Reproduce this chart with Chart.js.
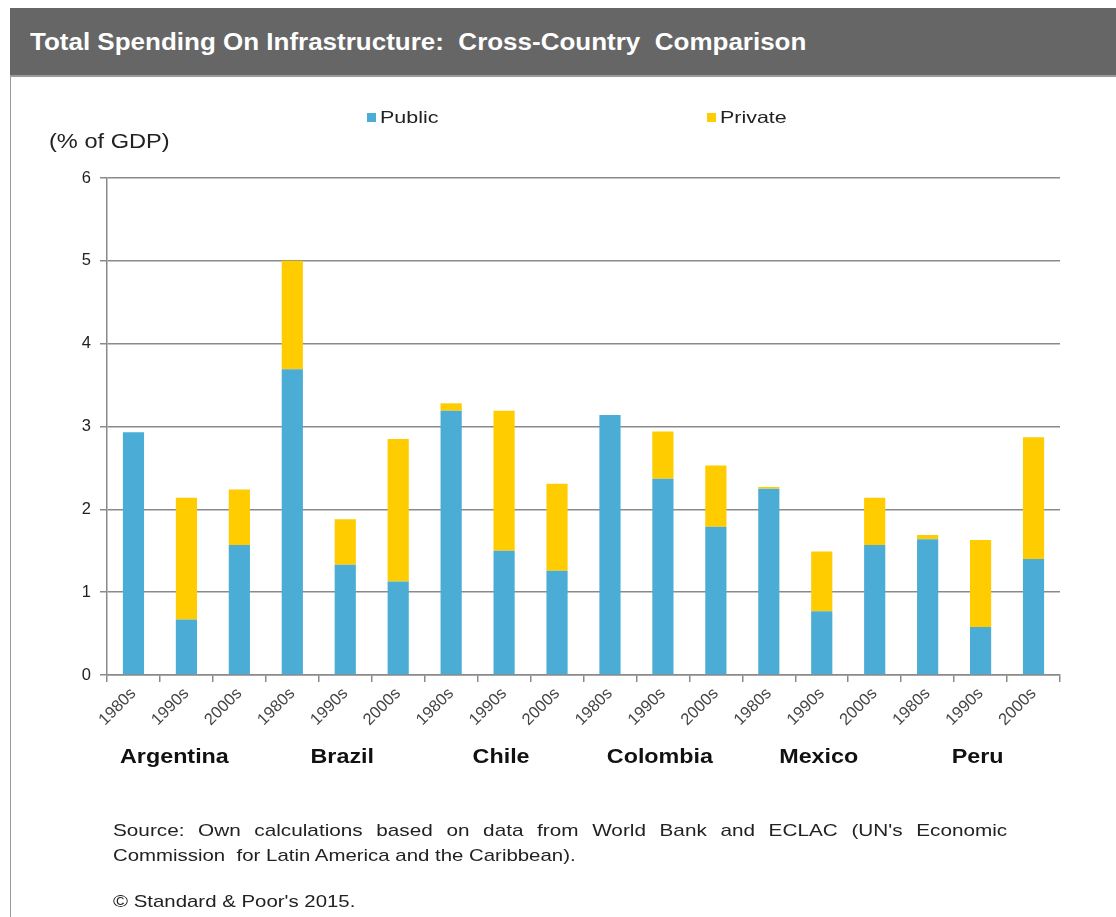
<!DOCTYPE html>
<html>
<head>
<meta charset="utf-8">
<script src="https://cdn.jsdelivr.net/npm/chart.js@4.4.1/dist/chart.umd.min.js"></script>
<style>
  html, body { margin: 0; padding: 0; background: #fff; }
  #wrap { position: relative; width: 1116px; height: 917px; overflow: hidden; font-family: "Liberation Sans", Arial, sans-serif; }
  #titlebar { position: absolute; left: 10px; top: 8px; width: 1106px; height: 67px; background: #666666; border-bottom: 2px solid #9a9a9a; }
  #titlebar span { position: absolute; left: 20px; top: 21px; color: #fff; font-size: 23px; font-weight: bold; white-space: pre; transform: scaleX(1.13); transform-origin: left top; }
  #leftline { position: absolute; left: 10px; top: 75px; width: 1px; height: 842px; background: #9a9a9a; }
  #chart { position: absolute; left: 0; top: 0; }
  .note { position: absolute; left: 113px; font-size: 17px; color: #222; white-space: nowrap; transform-origin: left top; }
  #src1 { top: 821px; width: 733px; text-align: justify; text-align-last: justify; white-space: normal; transform: scaleX(1.22); }
  #src2 { top: 846px; transform: scaleX(1.2); white-space: pre; }
  #copy { top: 892px; transform: scaleX(1.2); }
</style>
</head>
<body>
<div id="wrap">
  <div id="titlebar"><span>Total Spending On Infrastructure:  Cross-Country  Comparison</span></div>
  <div id="leftline"></div>
  <canvas id="chart" width="1116" height="917"></canvas>
  <div class="note" id="src1">Source: Own calculations based on data from World Bank and ECLAC (UN's Economic</div>
  <div class="note" id="src2">Commission  for Latin America and the Caribbean).</div>
  <div class="note" id="copy">© Standard &amp; Poor's 2015.</div>
</div>
<script>
const countries = ['Argentina', 'Brazil', 'Chile', 'Colombia', 'Mexico', 'Peru'];
const decades = ['1980s', '1990s', '2000s'];
const publicVals = [2.93, 0.67, 1.57, 3.69, 1.33, 1.13, 3.19, 1.50, 1.26, 3.14, 2.37, 1.79, 2.25, 0.77, 1.57, 1.64, 0.58, 1.40];
const privateVals = [0, 1.47, 0.67, 1.31, 0.55, 1.72, 0.09, 1.69, 1.05, 0, 0.57, 0.74, 0.02, 0.72, 0.57, 0.05, 1.05, 1.47];
const yTicks = [0, 1, 2, 3, 4, 5, 6];

const labels = countries.flatMap(() => decades);
const gridColor = '#8a8a8a';
const fontFamily = '"Liberation Sans", Arial, sans-serif';

// text in the source image is a bit wider than Arial, so stretch it a little
function wideText(ctx, text, x, y, sx, align) {
    ctx.save();
    ctx.translate(x, y);
    ctx.scale(sx, 1);
    ctx.textAlign = align;
    ctx.fillText(text, 0, 0);
    ctx.restore();
}

// legend, y title and country names drawn on the canvas
const extras = {
    id: 'extras',
    afterDraw(chart) {
        const ctx = chart.ctx;
        const x = chart.scales.x;
        ctx.save();
        ctx.fillStyle = '#222';
        ctx.textBaseline = 'middle';
        ctx.font = '20px ' + fontFamily;
        wideText(ctx, '(% of GDP)', 49, 142, 1.18, 'left');

        const legendX = [367, 707];
        chart.data.datasets.forEach((ds, i) => {
            ctx.fillStyle = ds.backgroundColor;
            ctx.fillRect(legendX[i], 113, 9, 9);
            ctx.fillStyle = '#222';
            ctx.font = '16.5px ' + fontFamily;
            wideText(ctx, ds.label, legendX[i] + 13, 118, 1.3, 'left');
        });

        ctx.font = 'bold 21px ' + fontFamily;
        ctx.fillStyle = '#111';
        countries.forEach((c, i) => {
            const cx = (x.getPixelForValue(i * 3) + x.getPixelForValue(i * 3 + 2)) / 2;
            wideText(ctx, c, cx - (i === 0 ? 12 : 3), 757, 1.11, 'center');
        });
        ctx.restore();
    }
};

new Chart(document.getElementById('chart'), {
    type: 'bar',
    data: {
        labels: labels,
        datasets: [
            { label: 'Public', data: publicVals, backgroundColor: '#4BACD6' },
            { label: 'Private', data: privateVals, backgroundColor: '#FFCC00' }
        ]
    },
    options: {
        responsive: false,
        animation: false,
        events: [],
        layout: { padding: { left: 60, right: 56, top: 178, bottom: 182 } },
        datasets: { bar: { barPercentage: 0.4, categoryPercentage: 1 } },
        plugins: { legend: { display: false }, tooltip: { enabled: false } },
        scales: {
            x: {
                stacked: true,
                afterFit: (s) => { s.height = 60; },
                grid: { offset: true, drawOnChartArea: false, color: gridColor, lineWidth: 1.5, tickLength: 7 },
                border: { color: gridColor, width: 1.5 },
                ticks: { color: '#444', font: { size: 16.5, family: fontFamily }, minRotation: 45, maxRotation: 45, padding: 2, autoSkip: false }
            },
            y: {
                stacked: true,
                min: 0,
                max: 6,
                afterFit: (s) => { s.width = 47; },
                afterBuildTicks: (s) => { s.ticks = yTicks.map(v => ({ value: v })); },
                grid: { color: gridColor, lineWidth: 1.5, tickLength: 7 },
                border: { color: gridColor, width: 1.5 },
                ticks: { color: '#222', font: { size: 16.5, family: fontFamily }, padding: 9 }
            }
        }
    },
    plugins: [extras]
});
</script>
</body>
</html>
